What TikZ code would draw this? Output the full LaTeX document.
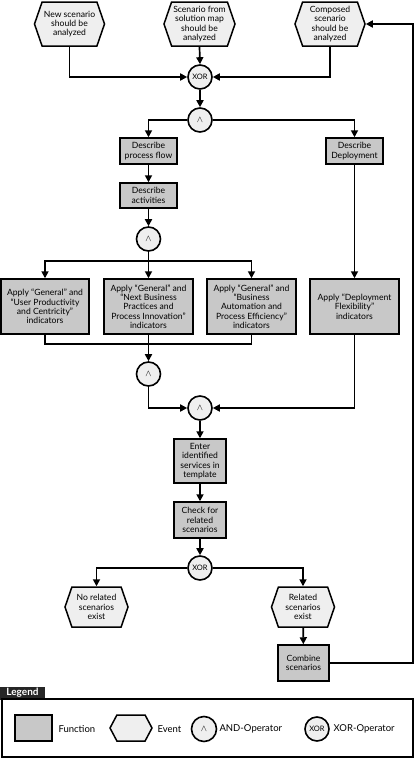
\documentclass[tikz,border=0pt]{standalone}
\usepackage{fontspec}
\setmainfont{Lato}
\usetikzlibrary{shapes.symbols,arrows.meta}
\definecolor{fngray}{HTML}{C8C8C8}
\definecolor{evgray}{HTML}{EFEFEF}
\tikzset{
  fn/.style={draw, line width=1.5pt, fill=fngray, align=center, inner sep=1pt},
  ev/.style={draw, shape=signal, signal to=east and west, signal pointer angle=142,
    fill=evgray, align=center, line width=1.5pt, inner sep=1pt},
  op/.style={draw, circle, fill=evgray, minimum size=24pt, inner sep=0pt, line width=1.6pt},
  arr/.style={-{Triangle[length=7pt,width=7pt]}, line width=1.7pt},
  wire/.style={line width=1.7pt}
}
\begin{document}
\begin{tikzpicture}[x=1pt,y=-1pt,font=\fontsize{8.6}{9.3}\selectfont]
  \useasboundingbox (0,0) rectangle (415,758);

  % start events
  \node[ev, minimum width=70pt, minimum height=44pt] (ev1) at (69.5,24) {New scenario\\should be\\analyzed};
  \node[ev, minimum width=71pt, minimum height=44pt] (ev2) at (199.5,24) {Scenario from\\solution map\\should be\\analyzed};
  \node[ev, minimum width=70pt, minimum height=44pt] (ev3) at (330,24) {Composed\\scenario\\should be\\analyzed};

  \node[op] (xor1) at (200,77) {\fontsize{7.5}{8}\selectfont XOR};
  \node[op] (and1) at (200,120) {$\land$};

  \node[fn, minimum width=57pt, minimum height=26pt] (dpf) at (148.5,151) {Describe\\process flow};
  \node[fn, minimum width=57pt, minimum height=26pt] (dd) at (354.5,151) {Describe\\Deployment};
  \node[fn, minimum width=57pt, minimum height=25pt] (da) at (148.5,195.5) {Describe\\activities};

  \node[op] (and2) at (148.5,239) {$\land$};

  % indicator functions
  \node[fn, minimum width=88pt, minimum height=55pt] (apa) at (45,306.5) {Apply “General” and\\“User Productivity\\and Centricity”\\indicators};
  \node[fn, minimum width=89pt, minimum height=55pt] (apb) at (148.5,306.5) {Apply “General” and\\“Next Business\\Practices and\\Process Innovation”\\indicators};
  \node[fn, minimum width=89pt, minimum height=55pt] (apc) at (251.5,306.5) {Apply “General” and\\“Business\\Automation and\\Process Efficiency”\\indicators};
  \node[fn, minimum width=89pt, minimum height=55pt] (apd) at (354.5,306.5) {Apply “Deployment\\Flexibility”\\indicators};

  \node[op] (and3) at (148.5,374) {$\land$};
  \node[op] (and4) at (200,408) {$\land$};

  \node[fn, minimum width=52pt, minimum height=44pt] (ent) at (200,461) {Enter\\identified\\services in\\template};
  \node[fn, minimum width=52pt, minimum height=36pt] (chk) at (200,520) {Check for\\related\\scenarios};
  \node[op] (xor2) at (200,568) {\fontsize{7.5}{8}\selectfont XOR};

  \node[ev, minimum width=63pt, minimum height=40pt] (norel) at (96.5,607) {No related\\scenarios\\exist};
  \node[ev, minimum width=63pt, minimum height=40pt] (rel) at (303,607) {Related\\scenarios\\exist};
  \node[fn, minimum width=51pt, minimum height=36pt] (comb) at (303.5,663) {Combine\\scenarios};

  \coordinate (split) at (148.5,261);
  \coordinate (join) at (148.5,344);
  \coordinate (back) at (413,663);

  % connectors
  \draw[arr] (ev1.south) |- (xor1.west);
  \draw[arr] (ev2.south) -- (xor1.north);
  \draw[arr] (ev3.south) |- (xor1.east);
  \draw[arr] (xor1) -- (and1);
  \draw[arr] (and1.west) -| (dpf.north);
  \draw[arr] (and1.east) -| (dd.north);
  \draw[arr] (dpf) -- (da);
  \draw[arr] (da) -- (and2);
  \draw[wire] (and2.south) -- (split);
  \draw[arr] (split) -| (apa.north);
  \draw[arr] (split) -- (apb.north);
  \draw[arr] (split) -| (apc.north);
  \draw[wire] (apa.south) |- (join);
  \draw[wire] (apc.south) |- (join);
  \draw[arr] (apb.south) -- (and3.north);
  \draw[arr] (and3.south) |- (and4.west);
  \draw[arr] (dd.south) -- (apd.north);
  \draw[arr] (apd.south) |- (and4.east);
  \draw[arr] (and4) -- (ent);
  \draw[arr] (ent) -- (chk);
  \draw[arr] (chk) -- (xor2);
  \draw[arr] (xor2.west) -| (norel.north);
  \draw[arr] (xor2.east) -| (rel.north);
  \draw[arr] (rel) -- (comb);
  \draw[arr] (comb.east) -- (back) |- (ev3.east);

  % legend
  \node[fill=black!85, text=white, font=\fontsize{10}{11}\bfseries, minimum width=45pt, minimum height=13pt, inner sep=0pt] (leg) at (22.5,693) {Legend};
  \draw[line width=1.5pt] (2,699) rectangle (413,757);
  \node[fn, minimum width=37pt, minimum height=26pt] (lfn) at (33.5,728) {};
  \node[anchor=west, font=\fontsize{9.5}{10}\selectfont] (lfnt) at (55,729) {Function};
  \node[ev, signal pointer angle=124, minimum width=42pt, minimum height=26pt] (lev) at (131,728) {};
  \node[anchor=west, font=\fontsize{9.5}{10}\selectfont] (levt) at (154,729) {Event};
  \node[op, minimum size=25pt] (land) at (204,729) {$\land$};
  \node[anchor=west, font=\fontsize{9.5}{10}\selectfont] (landt) at (216,729) {AND-Operator};
  \node[op] (lxor) at (317,729) {\fontsize{7.5}{8}\selectfont XOR};
  \node[anchor=west, font=\fontsize{9.5}{10}\selectfont] (lxort) at (330,729) {XOR-Operator};
\end{tikzpicture}
\end{document}
